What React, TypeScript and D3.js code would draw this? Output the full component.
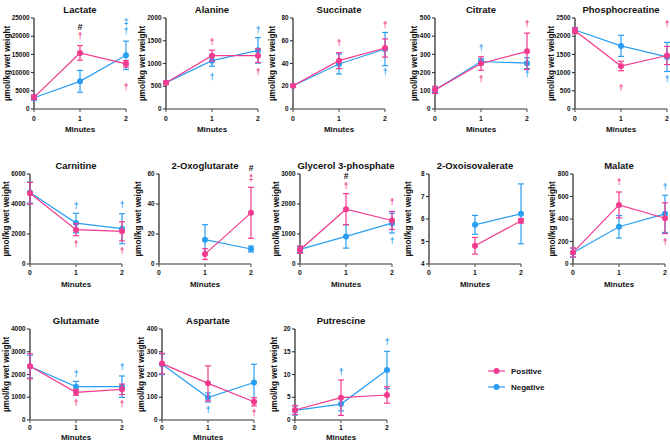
import React from "react";
import * as d3 from "d3";

// ---------- DATA ----------
const names = [
  "Lactate", "Alanine", "Succinate", "Citrate", "Phosphocreatine",
  "Carnitine", "2-Oxoglutarate", "Glycerol 3-phosphate", "2-Oxoisovalerate", "Malate",
  "Glutamate", "Aspartate", "Putrescine",
];
const yMin = [0, 0, 0, 0, 0, 0, 0, 0, 4, 0, 0, 0, 0];
const yMax = [25000, 2000, 80, 500, 2500, 6000, 60, 3000, 8, 800, 4000, 400, 20];
const yStep = [5000, 500, 20, 100, 500, 2000, 20, 1000, 1, 200, 1000, 100, 5];
const minutes = [0, 1, 2];

type V = number | null;
const posMean: V[][] = [
  [3200, 15400, 12400], [575, 1172, 1172], [20.5, 42.5, 53.6], [105, 250, 317], [2150, 1181, 1470],
  [4718, 2287, 2177], [null, 6.6, 34.1], [476, 1827, 1450], [null, 4.81, 5.92], [103, 525, 407],
  [2360, 1216, 1348], [248, 161, 80], [2.2, 4.9, 5.5],
];
const posErr: V[][] = [
  [600, 2000, 900], [30, 120, 150], [1, 7, 8], [20, 37, 100], [80, 130, 250],
  [720, 400, 640], [null, 3.6, 17], [120, 520, 300], [null, 0.37, 0.1], [40, 115, 137],
  [550, 130, 230], [45, 77, 18], [1, 3.9, 1.8],
];
const negMean: V[][] = [
  [3100, 7600, 14750], [580, 1062, 1289], [20.5, 39.6, 52.7], [105, 261, 252], [2170, 1734, 1430],
  [4760, 2729, 2354], [null, 16.2, 10], [490, 919, 1362], [null, 5.74, 6.23], [100, 331, 446],
  [2350, 1465, 1465], [245, 99, 165], [2.1, 3.5, 11.0],
];
const negErr: V[][] = [
  [700, 3000, 3900], [30, 120, 280], [1, 8.8, 14.6], [15, 15, 30], [70, 290, 400],
  [700, 650, 1000], [null, 10, 2], [100, 390, 330], [null, 0.42, 1.33], [40, 100, 165],
  [500, 230, 470], [45, 20, 80], [1, 1.5, 4.1],
];

// annotations: panel index, minute, y value, text, series ("pos" | "neg" | "both")
const annPanel = [0, 0, 0, 0, 0, 1, 1, 1, 1, 2, 2, 2, 3, 3, 3, 3, 4, 4, 4,
  5, 5, 5, 5, 6, 6, 7, 7, 7, 7, 9, 9, 9, 10, 10, 10, 10, 11, 11, 12, 12];
const annMinute = [1, 1, 2, 2, 2, 1, 1, 2, 2, 1, 2, 2, 1, 1, 2, 2, 1, 2, 2,
  1, 1, 2, 2, 2, 2, 1, 1, 2, 2, 1, 2, 2, 1, 1, 2, 2, 1, 2, 1, 2];
const annY = [22500, 20050, 23900, 21400, 6040, 1479, 703, 1736, 813, 58, 73.8, 32.5, 333, 163, 468, 191, 581, 2334, 812,
  3834, 1337, 3945, 895, 63.8, 57.6, 2934, 2613, 2059, 753, 726, 688, 195, 2007, 733, 2344, 689, 44, 29, 10.6, 17.2];
const annText = ["#", "†", "‡", "†", "†", "†", "†", "†", "†", "†", "†", "†", "†", "†", "†", "†", "†", "†", "†",
  "†", "†", "†", "†", "#", "‡", "#", "†", "†", "†", "†", "†", "†", "†", "†", "†", "†", "†", "†", "†", "†"];
const annSeries = ["both", "pos", "neg", "neg", "pos", "pos", "neg", "neg", "pos", "pos", "pos", "neg", "neg", "pos", "pos", "neg", "pos", "pos", "neg",
  "neg", "pos", "neg", "pos", "both", "pos", "both", "pos", "pos", "neg", "pos", "neg", "pos", "neg", "pos", "neg", "pos", "neg", "pos", "neg", "neg"];

const seriesNames = ["Positive", "Negative"];

// ---------- LAYOUT ----------
const axisX = [34, 166, 293, 435, 575, 30, 159, 300, 429, 573, 30, 162, 295];
const rowTop = [18, 174, 329];
const rowBottom = [109, 264, 420];
const tickGap = [10, 9, 8];
const titleGap = [20, 20, 17];
const plotW = 92;
const TICK_FS = 6.4;

const PINK = "#F23A8E";
const BLUE = "#2A9EF2";
const FONT = "'Liberation Sans', Arial, Helvetica, sans-serif";

function Panel({ i }: { i: number }) {
  const row = Math.floor(i / 5);
  const x0 = axisX[i];
  const top = rowTop[row];
  const bottom = rowBottom[row];
  const x = d3.scaleLinear().domain([0, 2]).range([x0, x0 + plotW]);
  const y = d3.scaleLinear().domain([yMin[i], yMax[i]]).range([bottom, top]);
  const ticks = d3.range(yMin[i], yMax[i] + yStep[i] / 2, yStep[i]);
  const line = d3.line<[number, number]>().x((d) => x(d[0])).y((d) => y(d[1]));
  const maxChars = d3.max(ticks, (t) => String(t).length) || 1;
  const tickW = maxChars * 0.556 * TICK_FS;
  const labelOff = Math.max(21, 4.5 + tickW + 4.8);

  const series = [
    { mean: negMean[i], err: negErr[i], color: BLUE },
    { mean: posMean[i], err: posErr[i], color: PINK },
  ];

  return (
    <g>
      <text x={x0 + plotW / 2} y={top - 5} textAnchor="middle" fontSize={9.5} fontWeight="bold" fontFamily={FONT} fill="#111">
        {names[i]}
      </text>
      {/* y axis */}
      <line x1={x0} x2={x0} y1={top} y2={bottom} stroke="#333" strokeWidth={1.3} />
      {ticks.map((t) => (
        <g key={t}>
          <line x1={x0 - 3} x2={x0} y1={y(t)} y2={y(t)} stroke="#333" strokeWidth={1.1} />
          <text x={x0 - 4.5} y={y(t)} dy="0.35em" textAnchor="end" fontSize={TICK_FS} fontWeight="bold" fontFamily={FONT} fill="#111">
            {t}
          </text>
        </g>
      ))}
      {/* x axis */}
      <line x1={x0} x2={x0 + plotW} y1={bottom} y2={bottom} stroke="#777" strokeWidth={1.5} />
      {minutes.map((m) => (
        <g key={m}>
          <line x1={x(m)} x2={x(m)} y1={bottom} y2={bottom + 3} stroke="#555" strokeWidth={1.1} />
          <text x={x(m)} y={bottom + tickGap[row]} dy="0.35em" textAnchor="middle" fontSize={6.8} fontWeight="bold" fontFamily={FONT} fill="#111">
            {m}
          </text>
        </g>
      ))}
      <text x={x0 + plotW / 2} y={bottom + titleGap[row]} dy="0.35em" textAnchor="middle" fontSize={8} fontWeight="bold" fontFamily={FONT} fill="#111">
        Minutes
      </text>
      <text
        transform={`translate(${x0 - labelOff},${(top + bottom) / 2}) rotate(-90)`}
        dy="0.35em"
        textAnchor="middle"
        fontSize={8.2}
        fontWeight="bold"
        fontFamily={FONT}
        fill="#111"
      >
        µmol/kg wet weight
      </text>
      {series.map((s, si) => {
        const pts: [number, number][] = [];
        minutes.forEach((m, k) => {
          const v = s.mean[k];
          if (v !== null) pts.push([m, v]);
        });
        return (
          <g key={si}>
            <path d={line(pts) || ""} fill="none" stroke={s.color} strokeWidth={1.2} />
            {minutes.map((m, k) => {
              const v = s.mean[k];
              const e = s.err[k];
              if (v === null || e === null) return null;
              const cx = x(m);
              const y1 = y(v + e);
              const y2 = y(v - e);
              return (
                <g key={k}>
                  <line x1={cx} x2={cx} y1={y1} y2={y2} stroke={s.color} strokeWidth={1.2} />
                  <line x1={cx - 3} x2={cx + 3} y1={y1} y2={y1} stroke={s.color} strokeWidth={1.2} />
                  <line x1={cx - 3} x2={cx + 3} y1={y2} y2={y2} stroke={s.color} strokeWidth={1.2} />
                  <circle cx={cx} cy={y(v)} r={3} fill={s.color} />
                </g>
              );
            })}
          </g>
        );
      })}
      {annPanel.map((p, k) =>
        p === i ? (
          <text
            key={k}
            x={x(annMinute[k])}
            y={y(annY[k])}
            dy="0.35em"
            textAnchor="middle"
            fontSize={8.5}
            fontWeight="bold"
            fontFamily={FONT}
            fill={annSeries[k] === "pos" ? PINK : annSeries[k] === "neg" ? BLUE : "#111"}
          >
            {annText[k]}
          </text>
        ) : null
      )}
    </g>
  );
}

export default function App() {
  const legendY = [371, 387];
  const legendColors = [PINK, BLUE];
  return (
    <svg width={670} height={443} style={{ position: "absolute", left: 0, top: 0, background: "#fff" }}>
      <rect width={670} height={443} fill="#fff" />
      {names.map((_, i) => (
        <Panel key={i} i={i} />
      ))}
      {seriesNames.map((n, k) => (
        <g key={n}>
          <line x1={488} x2={505} y1={legendY[k]} y2={legendY[k]} stroke={legendColors[k]} strokeWidth={1.2} />
          <circle cx={496.5} cy={legendY[k]} r={3} fill={legendColors[k]} />
          <text x={511} y={legendY[k]} dy="0.35em" fontSize={8} fontWeight="bold" fontFamily={FONT} fill="#111">
            {n}
          </text>
        </g>
      ))}
    </svg>
  );
}
